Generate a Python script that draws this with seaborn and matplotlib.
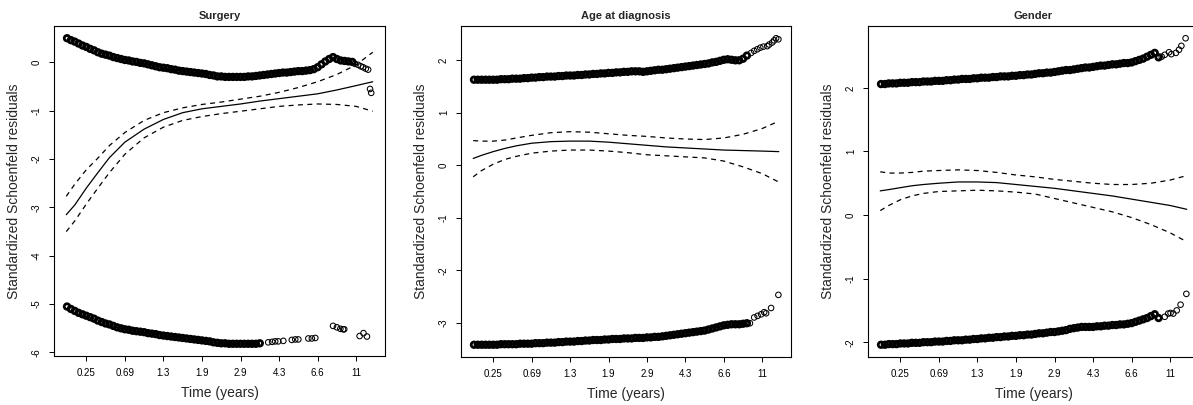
import matplotlib
matplotlib.use("Agg")
import matplotlib.pyplot as plt
import seaborn as sns

# transformed time axis: tick positions and the time labels shown there
tick_pos = [0.1, 0.2, 0.3, 0.4, 0.5, 0.6, 0.7, 0.8]
tick_lab = ["0.25", "0.69", "1.3", "1.9", "2.9", "4.3", "6.6", "11"]

# event times (transformed) where the residuals are packed densely
dense_x = [0.05, 0.06, 0.07, 0.08, 0.09, 0.10, 0.11, 0.12, 0.13, 0.14,
           0.15, 0.16, 0.17, 0.18, 0.19, 0.20, 0.21, 0.22, 0.23, 0.24,
           0.25, 0.26, 0.27, 0.28, 0.29, 0.30, 0.31, 0.32, 0.33, 0.34,
           0.35, 0.36, 0.37, 0.38, 0.39, 0.40, 0.41, 0.42, 0.43, 0.44,
           0.45, 0.46, 0.47, 0.48, 0.49, 0.50, 0.51, 0.52, 0.53, 0.54,
           0.55, 0.56, 0.57, 0.58, 0.59, 0.60, 0.61, 0.62, 0.63, 0.64,
           0.65, 0.66, 0.67, 0.68, 0.69, 0.70, 0.71, 0.72, 0.73, 0.74,
           0.75, 0.76, 0.77, 0.78, 0.79]

# x grid of the smooth fit and its confidence band
line_x = [0.048, 0.07, 0.10, 0.13, 0.16, 0.20, 0.25, 0.30, 0.35, 0.40,
          0.45, 0.50, 0.55, 0.60, 0.65, 0.70, 0.75, 0.80, 0.843]

# ---- Surgery ----
surg_up = [0.50, 0.46, 0.43, 0.39, 0.35, 0.32, 0.28, 0.25, 0.21, 0.18,
           0.16, 0.14, 0.11, 0.09, 0.07, 0.05, 0.04, 0.02, 0.01, -0.01,
           -0.02, -0.04, -0.06, -0.08, -0.10, -0.11, -0.12, -0.14, -0.15, -0.17,
           -0.18, -0.19, -0.20, -0.21, -0.22, -0.23, -0.24, -0.26, -0.27, -0.29,
           -0.29, -0.30, -0.30, -0.30, -0.30, -0.30, -0.30, -0.29, -0.29, -0.28,
           -0.27, -0.26, -0.25, -0.24, -0.23, -0.22, -0.21, -0.21, -0.20, -0.19,
           -0.18, -0.18, -0.17, -0.16, -0.14, -0.10, -0.04, 0.02, 0.07, 0.11,
           0.07, 0.04, 0.03, 0.02, 0.01]
surg_up_tx = [0.797, 0.805, 0.812, 0.818, 0.825, 0.831, 0.836, 0.839]
surg_up_ty = [-0.03, -0.05, -0.08, -0.10, -0.13, -0.15, -0.55, -0.63]
surg_lo = [-5.05, -5.10, -5.14, -5.18, -5.21, -5.24, -5.27, -5.30, -5.34, -5.37,
           -5.40, -5.42, -5.45, -5.48, -5.50, -5.52, -5.53, -5.55, -5.56, -5.57,
           -5.58, -5.60, -5.61, -5.62, -5.64, -5.65, -5.66, -5.67, -5.68, -5.69,
           -5.70, -5.71, -5.72, -5.73, -5.74, -5.75, -5.76, -5.77, -5.79, -5.80,
           -5.81, -5.81, -5.82, -5.82, -5.82, -5.82, -5.82, -5.82, -5.82, -5.82,
           -5.81]
surg_lo_tx = [0.572, 0.582, 0.590, 0.598, 0.611, 0.633, 0.642, 0.650, 0.676, 0.685,
              0.694, 0.740, 0.750, 0.759, 0.766, 0.769, 0.809, 0.819, 0.828]
surg_lo_ty = [-5.79, -5.78, -5.77, -5.77, -5.76, -5.74, -5.73, -5.73, -5.71, -5.71,
              -5.70, -5.45, -5.48, -5.51, -5.52, -5.52, -5.66, -5.60, -5.67]
surg_fit = [-3.15, -2.95, -2.60, -2.28, -1.97, -1.65, -1.38, -1.18, -1.04, -0.96,
            -0.91, -0.86, -0.80, -0.75, -0.70, -0.65, -0.57, -0.48, -0.40]
surg_hi = [-2.77, -2.52, -2.22, -1.98, -1.72, -1.45, -1.20, -1.04, -0.94, -0.87,
           -0.82, -0.76, -0.70, -0.62, -0.52, -0.40, -0.25, -0.05, 0.21]
surg_lw = [-3.50, -3.28, -2.93, -2.60, -2.28, -1.90, -1.56, -1.34, -1.20, -1.12,
           -1.06, -1.01, -0.96, -0.91, -0.88, -0.86, -0.87, -0.91, -1.01]

# ---- Age at diagnosis ----
age_up = [1.63, 1.63, 1.63, 1.63, 1.63, 1.63, 1.63, 1.64, 1.64, 1.64,
          1.65, 1.65, 1.65, 1.66, 1.66, 1.67, 1.67, 1.68, 1.68, 1.69,
          1.69, 1.69, 1.70, 1.70, 1.71, 1.71, 1.71, 1.72, 1.72, 1.73,
          1.73, 1.74, 1.74, 1.75, 1.75, 1.76, 1.76, 1.77, 1.77, 1.78,
          1.78, 1.79, 1.79, 1.79, 1.78, 1.79, 1.80, 1.81, 1.82, 1.82,
          1.83, 1.84, 1.85, 1.86, 1.87, 1.88, 1.89, 1.90, 1.91, 1.92,
          1.93, 1.94, 1.96, 1.97, 1.99, 2.01, 2.02, 2.01, 2.00, 2.00,
          2.03, 2.09]
age_up_tx = [0.771, 0.779, 0.787, 0.795, 0.803, 0.813, 0.818, 0.826, 0.831, 0.836, 0.842]
age_up_ty = [2.14, 2.18, 2.21, 2.24, 2.26, 2.27, 2.30, 2.34, 2.38, 2.42, 2.40]
age_lo = [-3.42, -3.42, -3.42, -3.42, -3.42, -3.42, -3.42, -3.41, -3.41, -3.41,
          -3.41, -3.41, -3.40, -3.40, -3.40, -3.40, -3.39, -3.39, -3.39, -3.38,
          -3.38, -3.38, -3.37, -3.37, -3.36, -3.36, -3.36, -3.35, -3.35, -3.34,
          -3.34, -3.33, -3.33, -3.33, -3.32, -3.32, -3.31, -3.31, -3.31, -3.30,
          -3.30, -3.30, -3.29, -3.29, -3.29, -3.28, -3.28, -3.27, -3.27, -3.26,
          -3.25, -3.24, -3.23, -3.22, -3.21, -3.20, -3.19, -3.18, -3.17, -3.16,
          -3.15, -3.13, -3.11, -3.09, -3.07, -3.05, -3.04, -3.03, -3.03, -3.03,
          -3.02, -3.01]
age_lo_tx = [0.768, 0.779, 0.788, 0.797, 0.805, 0.810, 0.823, 0.842]
age_lo_ty = [-3.01, -2.90, -2.87, -2.84, -2.80, -2.82, -2.72, -2.47]
age_fit = [0.13, 0.19, 0.26, 0.32, 0.37, 0.42, 0.45, 0.46, 0.46, 0.44,
           0.41, 0.38, 0.35, 0.33, 0.31, 0.29, 0.28, 0.27, 0.26]
age_hi = [0.47, 0.46, 0.46, 0.48, 0.52, 0.57, 0.62, 0.64, 0.63, 0.60,
          0.57, 0.55, 0.52, 0.50, 0.49, 0.52, 0.59, 0.70, 0.84]
age_lw = [-0.22, -0.10, 0.02, 0.11, 0.17, 0.23, 0.27, 0.29, 0.29, 0.27,
          0.24, 0.20, 0.18, 0.16, 0.14, 0.08, -0.03, -0.16, -0.32]

# ---- Gender ----
sex_up = [2.06, 2.06, 2.07, 2.07, 2.07, 2.08, 2.08, 2.08, 2.09, 2.09,
          2.09, 2.10, 2.10, 2.10, 2.11, 2.11, 2.11, 2.12, 2.12, 2.13,
          2.13, 2.14, 2.14, 2.14, 2.15, 2.15, 2.16, 2.16, 2.16, 2.17,
          2.17, 2.18, 2.18, 2.18, 2.19, 2.19, 2.20, 2.20, 2.21, 2.21,
          2.22, 2.23, 2.23, 2.24, 2.24, 2.25, 2.26, 2.27, 2.28, 2.28,
          2.29, 2.30, 2.31, 2.32, 2.32, 2.33, 2.34, 2.35, 2.35, 2.36,
          2.37, 2.37, 2.38, 2.39, 2.39, 2.40, 2.42, 2.44, 2.46, 2.49,
          2.52, 2.55, 2.48]
sex_up_tx = [0.778, 0.786, 0.797, 0.803, 0.815, 0.823, 0.829, 0.840]
sex_up_ty = [2.49, 2.52, 2.56, 2.53, 2.55, 2.60, 2.66, 2.78]
sex_lo = [-2.04, -2.04, -2.03, -2.03, -2.03, -2.02, -2.02, -2.02, -2.01, -2.01,
          -2.01, -2.00, -2.00, -2.00, -1.99, -1.99, -1.99, -1.98, -1.98, -1.97,
          -1.97, -1.97, -1.96, -1.96, -1.95, -1.95, -1.94, -1.94, -1.93, -1.93,
          -1.92, -1.92, -1.91, -1.91, -1.90, -1.90, -1.89, -1.89, -1.88, -1.88,
          -1.87, -1.86, -1.86, -1.85, -1.84, -1.84, -1.83, -1.82, -1.81, -1.79,
          -1.78, -1.77, -1.76, -1.76, -1.76, -1.76, -1.75, -1.75, -1.74, -1.74,
          -1.73, -1.73, -1.72, -1.72, -1.71, -1.70, -1.68, -1.66, -1.64, -1.62,
          -1.59, -1.56, -1.62]
sex_lo_tx = [0.786, 0.795, 0.801, 0.808, 0.817, 0.827, 0.842]
sex_lo_ty = [-1.60, -1.55, -1.54, -1.55, -1.50, -1.41, -1.24]
sex_fit = [0.38, 0.40, 0.43, 0.46, 0.48, 0.50, 0.52, 0.52, 0.51, 0.48,
           0.45, 0.42, 0.38, 0.34, 0.30, 0.25, 0.20, 0.15, 0.09]
sex_hi = [0.68, 0.66, 0.66, 0.67, 0.69, 0.70, 0.71, 0.70, 0.67, 0.63,
          0.60, 0.56, 0.53, 0.50, 0.48, 0.48, 0.50, 0.55, 0.62]
sex_lw = [0.07, 0.15, 0.24, 0.30, 0.34, 0.37, 0.38, 0.39, 0.38, 0.36,
          0.33, 0.26, 0.19, 0.12, 0.05, -0.04, -0.15, -0.28, -0.42]

titles = ["Surgery", "Age at diagnosis", "Gender"]
yticks = [[0, -1, -2, -3, -4, -5, -6], [-3, -2, -1, 0, 1, 2], [-2, -1, 0, 1, 2]]

panels = [
    (surg_up, surg_up_tx, surg_up_ty, surg_lo, surg_lo_tx, surg_lo_ty, surg_fit, surg_hi, surg_lw),
    (age_up, age_up_tx, age_up_ty, age_lo, age_lo_tx, age_lo_ty, age_fit, age_hi, age_lw),
    (sex_up, sex_up_tx, sex_up_ty, sex_lo, sex_lo_tx, sex_lo_ty, sex_fit, sex_hi, sex_lw),
]

sns.set_style("ticks")
plt.rcParams['font.family'] = ['Liberation Sans', 'DejaVu Sans']

W, H = 1193, 405
fig = plt.figure(figsize=(W / 100, H / 100), dpi=100)
# axes boxes in pixels: left, right, top, bottom
boxes = [(54, 385, 26, 356), (461, 791, 26, 357), (868, 1199, 26, 357)]


def points(ax, x, y, dense):
    # dense runs are hundreds of overlapping circles -> thick edges fill the band
    sns.scatterplot(x=x, y=y, ax=ax, marker='o', s=16, facecolors='none',
                    edgecolors='black', linewidths=2.0 if dense else 0.75,
                    legend=False)


for i, (title, yt, p) in enumerate(zip(titles, yticks, panels)):
    up, up_tx, up_ty, lo, lo_tx, lo_ty, fit, hi, lw = p
    l, r, t, b = boxes[i]
    ax = fig.add_axes([l / W, 1 - b / H, (r - l) / W, (b - t) / H])

    points(ax, dense_x[:len(up)], up, True)
    points(ax, up_tx, up_ty, False)
    points(ax, dense_x[:len(lo)], lo, True)
    points(ax, lo_tx, lo_ty, False)

    sns.lineplot(x=line_x, y=fit, ax=ax, color='black', lw=0.9, estimator=None)
    for band in (hi, lw):
        sns.lineplot(x=line_x, y=band, ax=ax, color='black', lw=0.9,
                     estimator=None, linestyle=(0, (4, 3.5)))

    ax.margins(0.04)
    ax.set_xticks(tick_pos, tick_lab)
    ax.set_yticks(yt, [str(v) for v in yt])
    ax.tick_params(direction='out', length=3.6, width=0.7, labelsize=7,
                   pad=5, colors='black')
    ax.tick_params(axis='y', labelrotation=90)
    for lbl in ax.get_yticklabels():
        lbl.set_va('center')
    for s in ax.spines.values():
        s.set_visible(True)
        s.set_linewidth(0.8)
        s.set_color('black')
    ax.set_title(title, fontsize=8, fontweight='bold', pad=5)
    ax.set_xlabel('Time (years)', fontsize=10, labelpad=6)
    ax.set_ylabel('Standardized Schoenfeld residuals', fontsize=10, labelpad=8)

fig.savefig('out.png', dpi=100)
